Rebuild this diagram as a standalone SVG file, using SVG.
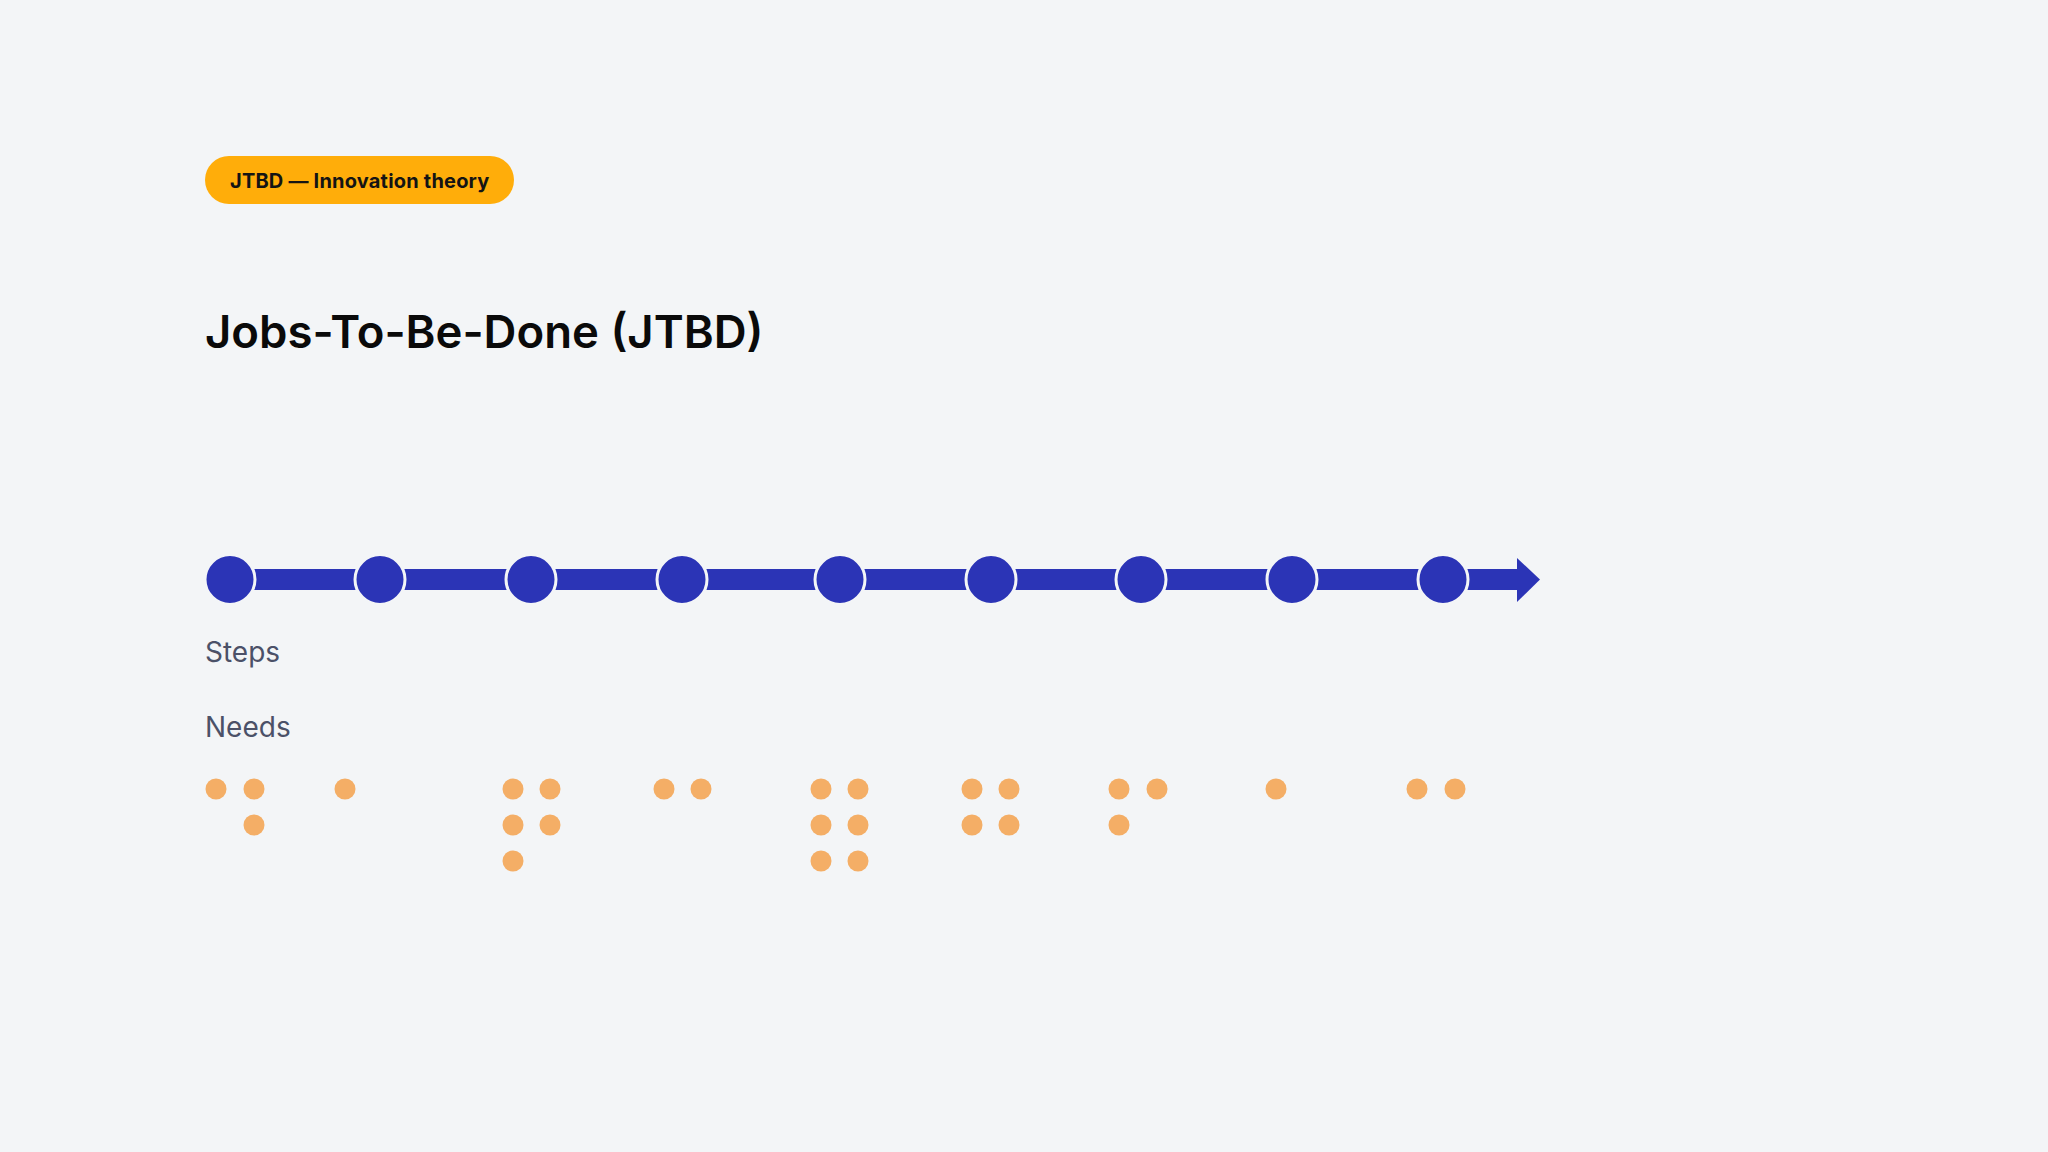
<svg xmlns="http://www.w3.org/2000/svg" width="2048" height="1152" viewBox="0 0 2048 1152">
<style>
.bg{fill:#F3F5F7}
.pill{fill:#FFAD0A}
.pilltxt{font-family:Inter,"Noto Sans",sans-serif;font-weight:700;font-size:20px;letter-spacing:0.2px;fill:#141414}
.title{font-family:Inter,"Noto Sans",sans-serif;font-weight:600;font-size:45.5px;fill:#0A0A0A}
.lbl{font-family:Inter,"Noto Sans",sans-serif;font-weight:400;font-size:28px;fill:#4B5168}
.step{fill:#2B34B6;stroke:#F3F5F7;stroke-width:3}
.need{fill:#F4AE66}
.bar{fill:#2B34B6}
</style>
<rect class="bg" x="0" y="0" width="2048" height="1152"/>
<g id="tag">
<rect class="pill" x="205" y="156" width="309" height="48" rx="24"/>
<text class="pilltxt" x="230" y="188">JTBD — Innovation theory</text>
</g>
<g id="title"><text class="title" x="205" y="348">Jobs-To-Be-Done (JTBD)</text></g>
<g id="connectors">
<rect class="bar" x="230" y="569" width="1290" height="21"/>
<polygon class="bar" points="1517,558 1540,579.5 1517,602"/>
</g>
<g id="step1"><circle class="step" cx="230" cy="579.5" r="25"/></g>
<g id="step2"><circle class="step" cx="380" cy="579.5" r="25"/></g>
<g id="step3"><circle class="step" cx="531" cy="579.5" r="25"/></g>
<g id="step4"><circle class="step" cx="682" cy="579.5" r="25"/></g>
<g id="step5"><circle class="step" cx="840" cy="579.5" r="25"/></g>
<g id="step6"><circle class="step" cx="991" cy="579.5" r="25"/></g>
<g id="step7"><circle class="step" cx="1141" cy="579.5" r="25"/></g>
<g id="step8"><circle class="step" cx="1292" cy="579.5" r="25"/></g>
<g id="step9"><circle class="step" cx="1443" cy="579.5" r="25"/></g>
<g id="label-steps"><text class="lbl" x="205" y="662">Steps</text></g>
<g id="label-needs"><text class="lbl" x="205" y="737">Needs</text></g>
<g id="needs">
<circle class="need" cx="216" cy="789" r="10.5"/>
<circle class="need" cx="254" cy="789" r="10.5"/>
<circle class="need" cx="254" cy="825" r="10.5"/>
<circle class="need" cx="345" cy="789" r="10.5"/>
<circle class="need" cx="513" cy="789" r="10.5"/>
<circle class="need" cx="550" cy="789" r="10.5"/>
<circle class="need" cx="513" cy="825" r="10.5"/>
<circle class="need" cx="550" cy="825" r="10.5"/>
<circle class="need" cx="513" cy="861" r="10.5"/>
<circle class="need" cx="664" cy="789" r="10.5"/>
<circle class="need" cx="701" cy="789" r="10.5"/>
<circle class="need" cx="821" cy="789" r="10.5"/>
<circle class="need" cx="858" cy="789" r="10.5"/>
<circle class="need" cx="821" cy="825" r="10.5"/>
<circle class="need" cx="858" cy="825" r="10.5"/>
<circle class="need" cx="821" cy="861" r="10.5"/>
<circle class="need" cx="858" cy="861" r="10.5"/>
<circle class="need" cx="972" cy="789" r="10.5"/>
<circle class="need" cx="1009" cy="789" r="10.5"/>
<circle class="need" cx="972" cy="825" r="10.5"/>
<circle class="need" cx="1009" cy="825" r="10.5"/>
<circle class="need" cx="1119" cy="789" r="10.5"/>
<circle class="need" cx="1157" cy="789" r="10.5"/>
<circle class="need" cx="1119" cy="825" r="10.5"/>
<circle class="need" cx="1276" cy="789" r="10.5"/>
<circle class="need" cx="1417" cy="789" r="10.5"/>
<circle class="need" cx="1455" cy="789" r="10.5"/>
</g>
</svg>
